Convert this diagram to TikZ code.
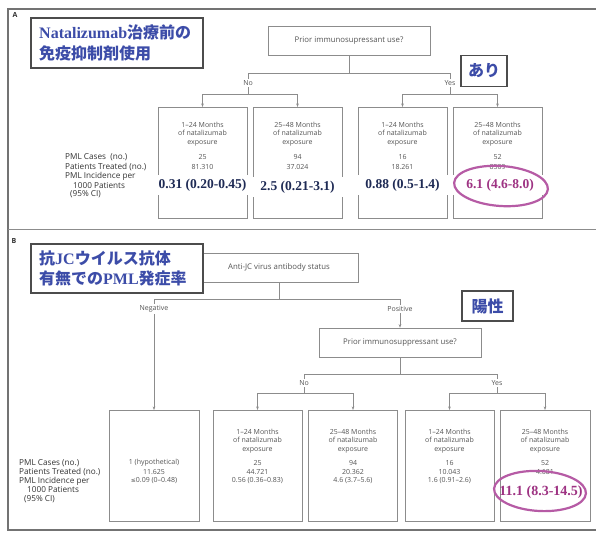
\documentclass[tikz,border=0pt]{standalone}
\usepackage{fontspec}
\setmainfont{Open Sans}
\newfontfamily\cjk{Noto Sans CJK JP}
\newfontfamily\lser{Liberation Serif}
\usetikzlibrary{arrows.meta,shapes.geometric}
\definecolor{jblue}{HTML}{3C4CA8}
\definecolor{navy}{HTML}{1F2B55}
\definecolor{mag}{HTML}{9E3383}
\definecolor{ring}{HTML}{B65BA5}
\definecolor{ln}{HTML}{8C8C8C}
\definecolor{tx}{HTML}{555555}
\begin{document}
\begin{tikzpicture}[x=1pt,y=-1pt,
  conn/.style={draw=ln,line width=0.6pt},
  arr/.style={conn,-{Stealth[length=3.5pt,width=2.6pt]}},
  box/.style={draw=ln,line width=0.6pt,rectangle,inner sep=0pt,anchor=north},
  small/.style={font=\fontsize{7}{8.5}\selectfont,text=tx,inner sep=0pt,align=center},
  lbl/.style={font=\fontsize{7}{8.5}\selectfont,text=tx,inner sep=1.5pt},
  side/.style={font=\fontsize{8.2}{9}\selectfont,text=black!80,inner sep=0pt,anchor=west},
  big/.style={font=\lser\bfseries\fontsize{13.5}{15}\selectfont,text=navy,fill=white,inner sep=0pt,minimum width=94pt,minimum height=20pt},
  title/.style={draw=black!70,line width=1.5pt,fill=white,inner sep=0pt,anchor=north west},
  jp/.style={font=\cjk\bfseries\fontsize{16}{20}\selectfont,text=jblue,inner sep=0pt},
  ring/.style={draw=ring,line width=2.2pt,ellipse,inner sep=0pt},
  qbox/.style={draw=ln,line width=0.6pt,rectangle,inner sep=0pt,font=\fontsize{7.8}{9}\selectfont,text=tx}
]
\fill[white] (0,0) rectangle (596,533);
\useasboundingbox (0,0) rectangle (596,533);
% frame
\draw[draw=black!55,line width=1.3pt] (596,9) -- (8,9) -- (8,530) -- (596,530);
\draw[draw=ln,line width=0.7pt] (8,229) -- (596,229);
\node[font=\bfseries\fontsize{7}{8}\selectfont,text=black!80] (lA) at (15,15) {A};
\node[font=\bfseries\fontsize{7}{8}\selectfont,text=black!80] (lB) at (14,241) {B};

% ================= Panel A =================
\node[qbox,minimum width=162pt,minimum height=29pt] (pA) at (349,40.5) {Prior immunosupressant use?};
\node[lbl] (noA) at (248,83) {No};
\node[lbl] (yesA) at (450,83) {Yes};
\draw[conn] (pA.south) -- ++(0,18) -| (noA.north);
\draw[conn] (pA.south) ++(0,18) -| (yesA.north);

\node[box,minimum width=89pt,minimum height=111pt] (a1) at (202.5,107) {};
\node[box,minimum width=89pt,minimum height=111pt] (a2) at (297.5,107) {};
\node[box,minimum width=89pt,minimum height=111pt] (a3) at (402.5,107) {};
\node[box,minimum width=89pt,minimum height=111pt] (a4) at (497.5,107) {};
\draw[arr] (noA.south) -- ++(0,7) -| (a1.north);
\draw[arr] (noA.south) ++(0,7) -| (a2.north);
\draw[arr] (yesA.south) -- ++(0,7) -| (a3.north);
\draw[arr] (yesA.south) ++(0,7) -| (a4.north);

\node[small] (a1m) at (202.5,134) {1–24 Months\\of natalizumab\\exposure};
\node[small] (a2m) at (297.5,134) {25–48 Months\\of natalizumab\\exposure};
\node[small] (a3m) at (402.5,134) {1–24 Months\\of natalizumab\\exposure};
\node[small] (a4m) at (497.5,134) {25–48 Months\\of natalizumab\\exposure};
\node[small] (a1c) at (202.5,157) {25};
\node[small] (a2c) at (297.5,157) {94};
\node[small] (a3c) at (402.5,157) {16};
\node[small] (a4c) at (497.5,157) {52};
\node[small] (a1p) at (202.5,167) {81.310};
\node[small] (a2p) at (297.5,167) {37.024};
\node[small] (a3p) at (402.5,167) {18.261};
\node[small] (a4p) at (497.5,167) {8509};

\node[side] (sA1) at (65,157) {PML Cases\ \ (no.)};
\node[side] (sA2) at (65,167) {Patients Treated (no.)};
\node[side] (sA3) at (65,176.5) {PML Incidence per};
\node[side] (sA4) at (73,185.5) {1000 Patients};
\node[side] (sA5) at (70,194.5) {(95\% CI)};

\node[big] (a1i) at (202.5,185) {0.31 (0.20-0.45)};
\node[big] (a2i) at (297.5,187) {2.5 (0.21-3.1)};
\node[big] (a3i) at (402.5,185) {0.88 (0.5-1.4)};
\node[big,text=mag] (a4i) at (500,185) {6.1 (4.6-8.0)};
\node[ring,minimum width=94pt,minimum height=40pt,rotate=-4] (eA) at (501,186) {};

\node[title,minimum width=172pt,minimum height=50pt] (tA) at (30,17) {};
\node[jp,anchor=west] (tA1) at (39,32) {{\lser\bfseries Natalizumab}治療前の};
\node[jp,anchor=west] (tA2) at (39,53) {免疫抑制剤使用};
\node[title,anchor=center,minimum width=46pt,minimum height=31pt] (ari) at (484,71) {};
\node[jp] (ariT) at (484,71) {あり};

% ================= Panel B =================
\node[qbox,minimum width=158pt,minimum height=29pt] (jc) at (279,267.5) {Anti-JC virus antibody status};
\node[lbl] (neg) at (154,309) {Negative};
\node[lbl] (pos) at (400,309) {Positive};
\draw[conn] (jc.south) -- ++(0,17) -| (neg.north);
\draw[conn] (jc.south) ++(0,17) -| (pos.north);
\node[qbox,minimum width=162pt,minimum height=29pt] (pB) at (400,342.5) {Prior immunosuppressant use?};
\draw[arr] (pos.south) -- (pB.north);
\node[lbl] (noB) at (304,383) {No};
\node[lbl] (yesB) at (497,383) {Yes};
\draw[conn] (pB.south) -- ++(0,17) -| (noB.north);
\draw[conn] (pB.south) ++(0,17) -| (yesB.north);

\node[box,minimum width=90pt,minimum height=111pt] (b1) at (154,410) {};
\node[box,minimum width=89pt,minimum height=111pt] (b2) at (257.5,410) {};
\node[box,minimum width=89pt,minimum height=111pt] (b3) at (353,410) {};
\node[box,minimum width=89pt,minimum height=111pt] (b4) at (449.5,410) {};
\node[box,minimum width=90pt,minimum height=111pt] (b5) at (545,410) {};
\draw[arr] (neg.south) -- (b1.north);
\draw[arr] (noB.south) -- ++(0,6) -| (b2.north);
\draw[arr] (noB.south) ++(0,6) -| (b3.north);
\draw[arr] (yesB.south) -- ++(0,6) -| (b4.north);
\draw[arr] (yesB.south) ++(0,6) -| (b5.north);

\node[small] (b2m) at (257.5,441) {1–24 Months\\of natalizumab\\exposure};
\node[small] (b3m) at (353,441) {25–48 Months\\of natalizumab\\exposure};
\node[small] (b4m) at (449.5,441) {1–24 Months\\of natalizumab\\exposure};
\node[small] (b5m) at (545,441) {25–48 Months\\of natalizumab\\exposure};
\node[small] (b1c) at (154,463) {1 (hypothetical)};
\node[small] (b2c) at (257.5,463) {25};
\node[small] (b3c) at (353,463) {94};
\node[small] (b4c) at (449.5,463) {16};
\node[small] (b5c) at (545,463) {52};
\node[small] (b1p) at (154,472) {11.625};
\node[small] (b2p) at (257.5,472) {44.721};
\node[small] (b3p) at (353,472) {20.362};
\node[small] (b4p) at (449.5,472) {10.043};
\node[small] (b5p) at (545,472) {4.681};
\node[small] (b1i) at (154,481) {{\fontspec{DejaVu Sans}\fontsize{6}{8}\selectfont ≤}0.09 (0–0.48)};
\node[small] (b2i) at (257.5,481) {0.56 (0.36–0.83)};
\node[small] (b3i) at (353,481) {4.6 (3.7–5.6)};
\node[small] (b4i) at (449.5,481) {1.6 (0.91–2.6)};

\node[side] (sB1) at (19,463) {PML Cases (no.)};
\node[side] (sB2) at (19,472) {Patients Treated (no.)};
\node[side] (sB3) at (19,481) {PML Incidence per};
\node[side] (sB4) at (27,490) {1000 Patients};
\node[side] (sB5) at (24,499) {(95\% CI)};

\node[font=\lser\bfseries\fontsize{14}{16}\selectfont,text=mag,inner sep=0pt] (b5i) at (541,492) {11.1 (8.3-14.5)};
\node[ring,minimum width=92pt,minimum height=40pt,rotate=-3] (eB) at (540,491) {};

\node[title,minimum width=172pt,minimum height=49pt] (tB) at (30,243) {};
\node[jp,anchor=west] (tB1) at (39,258) {抗{\lser\bfseries JC}ウイルス抗体};
\node[jp,anchor=west] (tB2) at (39,278.5) {有無での{\lser\bfseries PML}発症率};
\node[title,anchor=center,minimum width=51pt,minimum height=30pt] (yos) at (487.5,306) {};
\node[jp] (yosT) at (487.5,306) {陽性};
\end{tikzpicture}
\end{document}
